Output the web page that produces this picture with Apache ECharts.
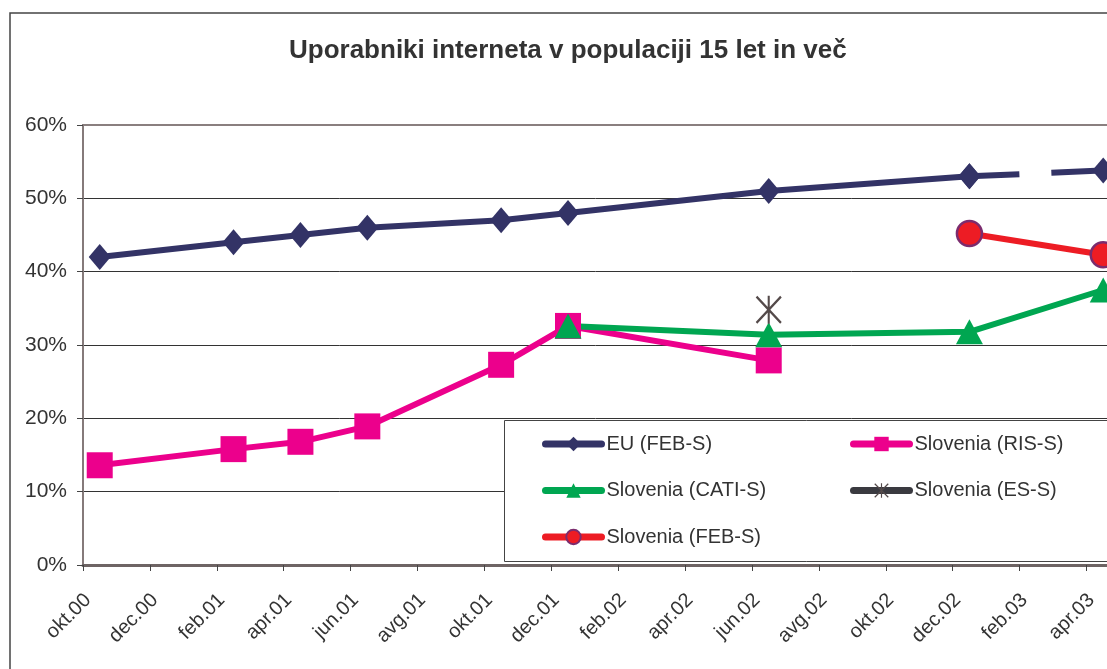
<!DOCTYPE html>
<html>
<head>
<meta charset="utf-8">
<script src="https://cdn.jsdelivr.net/npm/echarts@6/dist/echarts.min.js"></script>
<style>
  html, body { margin: 0; padding: 0; background: #fff; }
  #chart { width: 1107px; height: 669px; }
</style>
</head>
<body>
<div id="chart"></div>
<script>
// meseci na osi x (okt.00 - maj.03)
var months = ['okt.00','nov.00','dec.00','jan.01','feb.01','mar.01','apr.01','maj.01','jun.01','jul.01','avg.01','sep.01',
  'okt.01','nov.01','dec.01','jan.02','feb.02','mar.02','apr.02','maj.02','jun.02','jul.02','avg.02','sep.02',
  'okt.02','nov.02','dec.02','jan.03','feb.03','mar.03','apr.03','maj.03'];
var yTicks = [0, 10, 20, 30, 40, 50, 60];

// EU (FEB-S)
var euMonths = ['okt.00','feb.01','apr.01','jun.01','okt.01','dec.01','jun.02','dec.02'];
var euValues = [42, 44, 45, 46, 47, 48, 51, 53];
// zadnji odsek je crtkan
var euDashMonths = ['dec.02','apr.03'];
var euDashValues = [53, 53.8];
// Slovenia (RIS-S)
var risMonths = ['okt.00','feb.01','apr.01','jun.01','okt.01','dec.01','jun.02'];
var risValues = [13.6, 15.8, 16.8, 18.9, 27.3, 32.6, 27.9];
// Slovenia (CATI-S)
var catiMonths = ['dec.01','jun.02','dec.02','apr.03'];
var catiValues = [32.6, 31.4, 31.8, 37.5];
// Slovenia (ES-S)
var esMonths = ['jun.02'];
var esValues = [34.8];
// Slovenia (FEB-S)
var febMonths = ['dec.02','apr.03'];
var febValues = [45.2, 42.3];

// tocka je na sredini meseca
function pts(ms, vs) {
  return ms.map(function (m, i) { return [months.indexOf(m) + 0.5, vs[i]]; });
}

var asterisk = 'path://M46,0 L54,0 L54,100 L46,100 Z M6,0 L100,94 L94,100 L0,6 Z M94,0 L100,6 L6,100 L0,94 Z';
var font = 'Liberation Sans, Arial, sans-serif';

var legendBase = {
  orient: 'vertical', top: 434, padding: 0, z: 5,
  itemWidth: 56, itemHeight: 18, itemGap: 26.5,
  lineStyle: { width: 7, cap: 'round' },
  textStyle: { fontSize: 20, color: '#333', lineHeight: 18, fontFamily: font }
};

var myChart = echarts.init(document.getElementById('chart'));
var option = {
  animation: false,
  backgroundColor: '#fff',
  textStyle: { fontFamily: font },
  title: {
    text: 'Uporabniki interneta v populaciji 15 let in več',
    left: 284, top: 33,
    textStyle: { fontSize: 26, fontWeight: 'bold', color: '#333', fontFamily: font }
  },
  graphic: [
    { type: 'rect', z: 1, shape: { x: 10, y: 13, width: 1200, height: 700 },
      style: { fill: 'none', stroke: '#444', lineWidth: 1.5 } },
    { type: 'rect', z: 3, shape: { x: 504.5, y: 420.5, width: 700, height: 141 },
      style: { fill: '#fff', stroke: '#444', lineWidth: 1 } }
  ],
  legend: [
    Object.assign({}, legendBase, { left: 542, data: ['EU (FEB-S)', 'Slovenia (CATI-S)', 'Slovenia (FEB-S)'] }),
    Object.assign({}, legendBase, { left: 850, data: ['Slovenia (RIS-S)', 'Slovenia (ES-S)'] })
  ],
  grid: {
    left: 83, top: 125, height: 440, width: months.length * 33.45,
    outerBoundsMode: 'none', containLabel: false,
    show: true, borderColor: '#8a7f7f', borderWidth: 2, backgroundColor: 'transparent'
  },
  xAxis: {
    type: 'value', min: 0, max: months.length, interval: 2,
    axisLine: { lineStyle: { color: '#6e6464', width: 3 } },
    axisTick: { show: true, length: 6, lineStyle: { color: '#444', width: 1 } },
    splitLine: { show: false },
    axisLabel: {
      rotate: 45, margin: 37, padding: [0, -7, 0, 0], fontSize: 20, color: '#333', fontFamily: font,
      showMaxLabel: false,
      formatter: function (v) { return months[v] || ''; }
    }
  },
  yAxis: {
    type: 'value', min: yTicks[0], max: yTicks[yTicks.length - 1], interval: 10,
    axisLine: { show: true, onZero: false, lineStyle: { color: '#857a7a', width: 2 } },
    axisTick: { show: true, length: 6, lineStyle: { color: '#444' } },
    splitLine: { show: true, lineStyle: { color: ['#333', '#333', '#333', '#333', '#333', '#333', '#8a7f7f'], width: 1 } },
    axisLabel: { margin: 16, fontSize: 21, color: '#333', fontFamily: font, formatter: '{value}%' }
  },
  series: [
    {
      name: 'EU (FEB-S)', type: 'line', data: pts(euMonths, euValues),
      symbol: 'diamond', symbolSize: [22, 26],
      itemStyle: { color: '#333366' }, lineStyle: { color: '#333366', width: 6 }
    },
    {
      name: 'EU (FEB-S)', type: 'line', data: pts(euDashMonths, euDashValues),
      symbol: 'diamond', symbolSize: [22, 26],
      itemStyle: { color: '#333366' }, lineStyle: { color: '#333366', width: 6, type: [50, 32] }
    },
    {
      name: 'Slovenia (RIS-S)', type: 'line', data: pts(risMonths, risValues),
      symbol: 'rect', symbolSize: 26,
      itemStyle: { color: '#ec008c' }, lineStyle: { color: '#ec008c', width: 6 }
    },
    {
      name: 'Slovenia (CATI-S)', type: 'line', data: pts(catiMonths, catiValues),
      symbol: 'triangle', symbolSize: [27, 25],
      itemStyle: { color: '#00a651' }, lineStyle: { color: '#00a651', width: 6 }
    },
    {
      name: 'Slovenia (ES-S)', type: 'line', data: pts(esMonths, esValues),
      symbol: asterisk, symbolSize: [26, 28],
      itemStyle: { color: '#544a4a' }, lineStyle: { color: '#3a3a40', width: 6 }
    },
    {
      name: 'Slovenia (FEB-S)', type: 'line', data: pts(febMonths, febValues),
      symbol: 'circle', symbolSize: 25,
      itemStyle: { color: '#ed1c24', borderColor: '#7b2c6e', borderWidth: 2.5 },
      lineStyle: { color: '#ed1c24', width: 6 }
    }
  ]
};
myChart.setOption(option);
</script>
</body>
</html>
